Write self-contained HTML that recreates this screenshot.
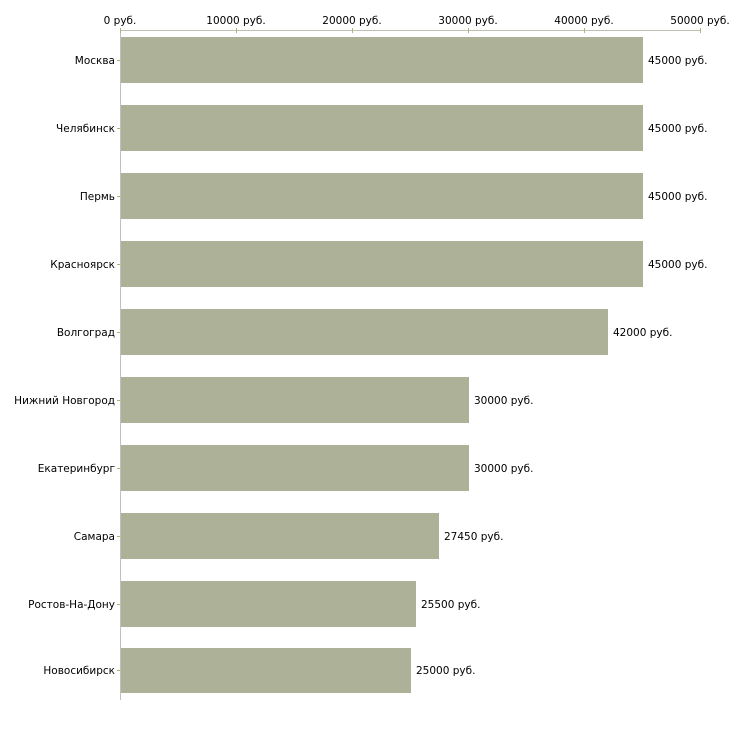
<!DOCTYPE html>
<html><head><meta charset="utf-8"><style>body{margin:0;background:#fff}svg{display:block}text{font-family:"DejaVu Sans","Liberation Sans",sans-serif;font-size:10.5px;fill:#000}</style></head><body>
<svg width="730" height="730" xmlns="http://www.w3.org/2000/svg">
<line x1="120" y1="30.5" x2="700" y2="30.5" stroke="#c0c0b0" stroke-width="1"/>
<line x1="120.5" y1="30" x2="120.5" y2="700" stroke="#c0c0c0" stroke-width="1"/>
<g stroke="#b0b080">
<line x1="120.5" y1="28" x2="120.5" y2="33"/><line x1="236.5" y1="28" x2="236.5" y2="33"/><line x1="352.5" y1="28" x2="352.5" y2="33"/><line x1="468.5" y1="28" x2="468.5" y2="33"/><line x1="584.5" y1="28" x2="584.5" y2="33"/><line x1="700.5" y1="28" x2="700.5" y2="33"/>
</g>
<g text-anchor="middle">
<text x="120" y="24">0 руб.</text><text x="236" y="24">10000 руб.</text><text x="352" y="24">20000 руб.</text><text x="468" y="24">30000 руб.</text><text x="584" y="24">40000 руб.</text><text x="700" y="24">50000 руб.</text>
</g>
<g fill="#acb197">
<rect x="121" y="37" width="522" height="46"/>
<rect x="121" y="105" width="522" height="46"/>
<rect x="121" y="173" width="522" height="46"/>
<rect x="121" y="241" width="522" height="46"/>
<rect x="121" y="309" width="487" height="46"/>
<rect x="121" y="377" width="348" height="46"/>
<rect x="121" y="445" width="348" height="46"/>
<rect x="121" y="513" width="318" height="46"/>
<rect x="121" y="581" width="295" height="46"/>
<rect x="121" y="648" width="290" height="45"/>
</g>
<g stroke="#b0b080">
<line x1="117" y1="60.5" x2="120" y2="60.5"/><line x1="117" y1="128.5" x2="120" y2="128.5"/><line x1="117" y1="196.5" x2="120" y2="196.5"/><line x1="117" y1="264.5" x2="120" y2="264.5"/><line x1="117" y1="332.5" x2="120" y2="332.5"/><line x1="117" y1="400.5" x2="120" y2="400.5"/><line x1="117" y1="468.5" x2="120" y2="468.5"/><line x1="117" y1="536.5" x2="120" y2="536.5"/><line x1="117" y1="604.5" x2="120" y2="604.5"/><line x1="117" y1="670.5" x2="120" y2="670.5"/>
</g>
<g text-anchor="end">
<text x="115" y="64">Москва</text><text x="115" y="132">Челябинск</text><text x="115" y="200">Пермь</text><text x="115" y="268">Красноярск</text><text x="115" y="336">Волгоград</text><text x="115" y="404">Нижний Новгород</text><text x="115" y="472">Екатеринбург</text><text x="115" y="540">Самара</text><text x="115" y="608">Ростов-На-Дону</text><text x="115" y="674">Новосибирск</text>
</g>
<text x="648" y="64">45000 руб.</text><text x="648" y="132">45000 руб.</text><text x="648" y="200">45000 руб.</text><text x="648" y="268">45000 руб.</text><text x="613" y="336">42000 руб.</text><text x="474" y="404">30000 руб.</text><text x="474" y="472">30000 руб.</text><text x="444" y="540">27450 руб.</text><text x="421" y="608">25500 руб.</text><text x="416" y="674">25000 руб.</text>
</svg>
</body></html>
